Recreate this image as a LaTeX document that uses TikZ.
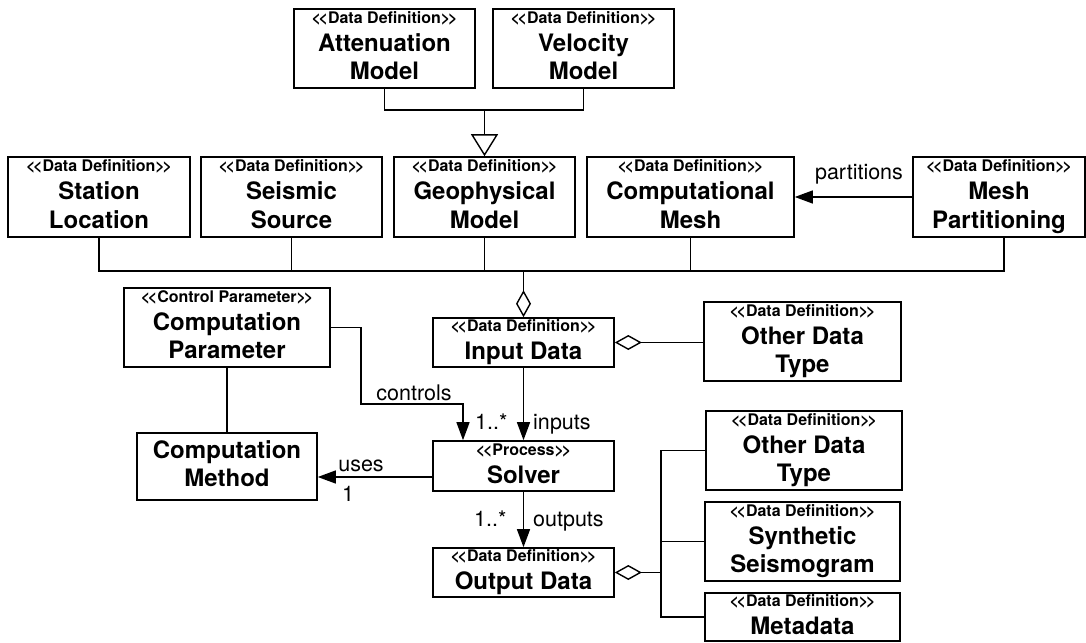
\documentclass[tikz,border=0pt]{standalone}
\usepackage{fontspec}
\setmainfont{TeX Gyre Heros}
\usetikzlibrary{arrows.meta}
% fonts for class names, stereotypes and association labels
\newcommand\namefont{\fontsize{24bp}{28bp}\selectfont\bfseries}
\newcommand\stereo[1]{\rule{0pt}{12bp}{\fontsize{16bp}{18bp}\selectfont\bfseries
  <\kern-2.2bp<#1>\kern-2.2bp>}}
\newcommand\dd{\stereo{Data Definition}}
\newcommand\lastline{\rule[-6bp]{0pt}{6bp}}
\begin{document}
\begin{tikzpicture}[x=1bp,y=-1bp,
  box/.style={draw, line width=1.6bp, inner sep=0pt, align=center, font=\namefont, minimum width=#1},
  box/.default=181bp,
  ln/.style={line width=1.4bp},
  arr/.style={ln, -{Triangle[length=18bp,width=13bp]}},
  agg/.style={ln, {Diamond[open,length=27bp,width=15bp,line width=1.4bp]}-},
  gen/.style={ln, -{Triangle[open,length=22bp,width=27bp,line width=1.4bp]}},
  lbl/.style={font=\fontsize{21.5bp}{24bp}\selectfont, inner sep=0pt, anchor=base}]
\fill[white] (0,0) rectangle (1086,643);
\useasboundingbox (0,0) rectangle (1086,643);

% model hierarchy
\node[box, minimum height=79bp] (att) at (384.5,48.5) {\dd\\Attenuation\\Model\lastline};
\node[box, minimum height=79bp] (vel) at (583.5,48.5) {\dd\\Velocity\\Model\lastline};

% input data definitions
\node[box=182bp, minimum height=80bp] (stn) at (99,197) {\dd\\Station\\Location\lastline};
\node[box, minimum height=80bp] (ss) at (291.5,197) {\dd\\Seismic\\Source\lastline};
\node[box, minimum height=80bp] (geo) at (484.5,197) {\dd\\Geophysical\\Model\lastline};
\node[box=207bp, minimum height=80bp] (cmesh) at (690.5,197) {\dd\\Computational\\Mesh\lastline};
\node[box=172bp, minimum height=80bp] (mp) at (999,197) {\dd\\Mesh\\Partitioning\lastline};

% control and process
\node[box=206bp, minimum height=79bp] (cp) at (227,327.5) {\stereo{Control Parameter}\\Computation\\Parameter\lastline};
\node[box=180bp, minimum height=67bp] (cm) at (227,466.5) {Computation\\Method\lastline};
\node[box, minimum height=49bp] (in) at (523.5,342.5) {\dd\\Input Data\lastline};
\node[box=197bp, minimum height=79bp] (odt1) at (802.5,341.5) {\dd\\Other Data\\Type\lastline};
\node[box, minimum height=50bp] (sv) at (523.5,466) {\stereo{Process}\\Solver\lastline};

% output data definitions
\node[box, minimum height=49bp] (out) at (523.5,572.5) {\dd\\Output Data\lastline};
\node[box=196bp, minimum height=79bp] (odt2) at (804,450.5) {\dd\\Other Data\\Type\lastline};
\node[box=195bp, minimum height=79bp] (syn) at (802.5,541.5) {\dd\\Synthetic\\Seismogram\lastline};
\node[box=195bp, minimum height=48bp] (meta) at (802.5,617) {\dd\\Metadata\lastline};

% generalization of the geophysical model
\coordinate (genj) at (484.5,110);
\draw[ln] (att.south) |- (genj) -| (vel.south);
\draw[gen] (genj) -- (geo.north);

% composition of the input data
\coordinate (bus) at (0,271);
\coordinate (mpstub) at ([xshift=5bp]mp.south);
\draw[ln] (stn.south) |- (mpstub |- bus) -- (mpstub);
\draw[ln] (ss.south) -- (ss.south |- bus);
\draw[ln] (geo.south) -- (geo.south |- bus);
\draw[ln] (cmesh.south) -- (cmesh.south |- bus);
\draw[agg] (in.north) -- (in.north |- bus);
\draw[agg] (in.east) -- (in.east -| odt1.west);

% partitioning
\draw[arr] (mp.west) -- (cmesh.east);
\node[lbl] (lpart) at (859,180) {partitions};

% solver relations
\draw[ln] (cp.south) -- (cm.north);
\coordinate (ctlA) at (361,404);
\coordinate (ctlB) at (463,404);
\draw[arr] (cp.east) -| (ctlA) -- (ctlB) -- (ctlB |- sv.north);
\node[lbl] (lctl) at (414,400) {controls};
\node[lbl, anchor=base west] (mctl) at (475,429) {1..*};
\draw[arr] (in.south) -- (sv.north);
\node[lbl, anchor=base west] (linp) at (533,429) {inputs};

\coordinate (usesY) at (0,477);
\draw[arr] (sv.west |- usesY) -- (cm.east |- usesY);
\node[lbl] (luses) at (361,471) {uses};
\node[lbl] (muses) at (348,501) {1};

\draw[arr] (sv.south) -- (out.north);
\node[lbl, anchor=base west] (mout) at (474,526) {1..*};
\node[lbl, anchor=base west] (lout) at (533,526) {outputs};

% composition of the output data
\coordinate (obT) at (661,450.5);
\coordinate (obB) at (661,617);
\draw[ln] (odt2.west) -- (obT) -- (obB) -- (meta.west);
\draw[ln] (syn.west) -- (syn.west -| obT);
\draw[agg] (out.east) -- (out.east -| obT);
\end{tikzpicture}
\end{document}
